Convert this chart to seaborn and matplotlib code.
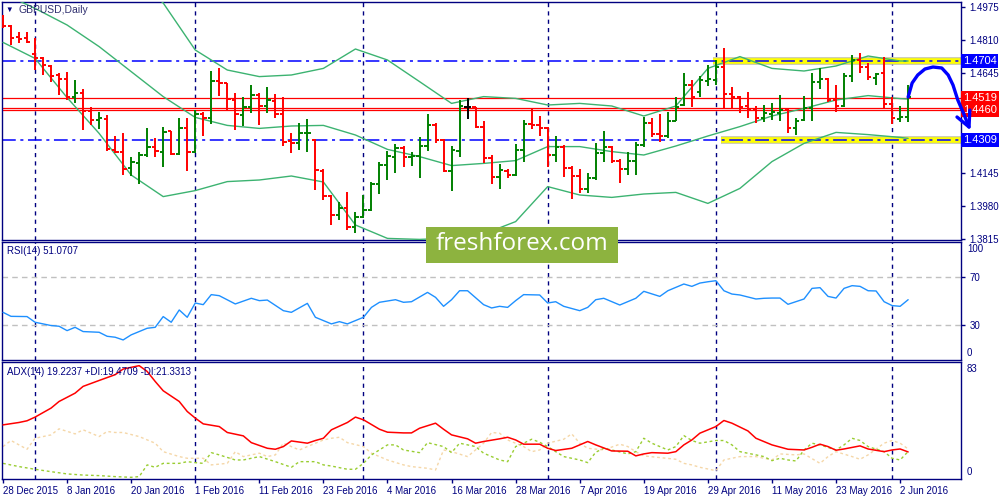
import matplotlib
matplotlib.use("Agg")
import matplotlib.pyplot as plt
import matplotlib.transforms as mtransforms
from matplotlib.patches import Rectangle
import matplotlib.patheffects as pe
import numpy as np
import pandas as pd
import seaborn as sns

# ---------------- data (GBPUSD daily, 28 Dec 2015 - 3 Jun 2016) ----------------
opens = [1.4927, 1.4882, 1.4823, 1.4820, 1.4738, 1.4722, 1.4680, 1.4635, 1.4617, 1.4527,
         1.4543, 1.4455, 1.4410, 1.4415, 1.4260, 1.4252, 1.4168, 1.4193, 1.4233, 1.4277,
         1.4252, 1.4355, 1.4240, 1.4368, 1.4252, 1.4440, 1.4418, 1.4605, 1.4593, 1.4510,
         1.4435, 1.4477, 1.4535, 1.4480, 1.4505, 1.4440, 1.4305, 1.4293, 1.4343, 1.4310,
         1.4157, 1.4030, 1.3935, 1.3968, 1.3877, 1.3927, 1.3960, 1.4090, 1.4185, 1.4227,
         1.4268, 1.4223, 1.4230, 1.4282, 1.4385, 1.4310, 1.4157, 1.4257, 1.4477, 1.4473,
         1.4373, 1.4218, 1.4127, 1.4157, 1.4135, 1.4260, 1.4390, 1.4385, 1.4372, 1.4235,
         1.4277, 1.4168, 1.4130, 1.4063, 1.4118, 1.4243, 1.4277, 1.4205, 1.4163, 1.4205,
         1.4285, 1.4397, 1.4338, 1.4330, 1.4407, 1.4485, 1.4585, 1.4552, 1.4607, 1.4610,
         1.4677, 1.4538, 1.4527, 1.4480, 1.4460, 1.4418, 1.4440, 1.4443, 1.4460, 1.4368,
         1.4410, 1.4468, 1.4602, 1.4613, 1.4510, 1.4480, 1.4630, 1.4710, 1.4677, 1.4618,
         1.4643, 1.4490, 1.4415, 1.4427]
highs = [1.4935, 1.4885, 1.4848, 1.4848, 1.4818, 1.4727, 1.4685, 1.4647, 1.4652, 1.4610,
         1.4563, 1.4477, 1.4448, 1.4435, 1.4330, 1.4347, 1.4227, 1.4252, 1.4372, 1.4318,
         1.4377, 1.4357, 1.4418, 1.4422, 1.4460, 1.4452, 1.4655, 1.4668, 1.4593, 1.4547,
         1.4523, 1.4585, 1.4543, 1.4573, 1.4540, 1.4523, 1.4347, 1.4397, 1.4413, 1.4313,
         1.4163, 1.4035, 1.4002, 1.4048, 1.3952, 1.4035, 1.4102, 1.4198, 1.4257, 1.4290,
         1.4282, 1.4252, 1.4327, 1.4440, 1.4397, 1.4313, 1.4280, 1.4510, 1.4518, 1.4473,
         1.4405, 1.4235, 1.4188, 1.4165, 1.4288, 1.4410, 1.4463, 1.4430, 1.4377, 1.4330,
         1.4285, 1.4182, 1.4163, 1.4143, 1.4293, 1.4355, 1.4282, 1.4215, 1.4252, 1.4302,
         1.4427, 1.4418, 1.4440, 1.4452, 1.4523, 1.4647, 1.4610, 1.4630, 1.4685, 1.4710,
         1.4772, 1.4573, 1.4530, 1.4552, 1.4480, 1.4485, 1.4493, 1.4535, 1.4465, 1.4418,
         1.4530, 1.4643, 1.4668, 1.4618, 1.4585, 1.4647, 1.4735, 1.4747, 1.4693, 1.4647,
         1.4727, 1.4523, 1.4480, 1.4585]
lows = [1.4868, 1.4785, 1.4793, 1.4797, 1.4660, 1.4635, 1.4602, 1.4535, 1.4510, 1.4497,
        1.4360, 1.4385, 1.4363, 1.4257, 1.4243, 1.4135, 1.4130, 1.4088, 1.4227, 1.4227,
        1.4177, 1.4235, 1.4235, 1.4155, 1.4247, 1.4330, 1.4388, 1.4530, 1.4457, 1.4360,
        1.4380, 1.4443, 1.4385, 1.4447, 1.4418, 1.4282, 1.4243, 1.4260, 1.4252, 1.4060,
        1.4010, 1.3885, 1.3910, 1.3860, 1.3843, 1.3918, 1.3957, 1.4038, 1.4110, 1.4143,
        1.4177, 1.4182, 1.4122, 1.4257, 1.4297, 1.4148, 1.4057, 1.4227, 1.4413, 1.4368,
        1.4197, 1.4088, 1.4063, 1.4118, 1.4130, 1.4202, 1.4363, 1.4330, 1.4177, 1.4198,
        1.4127, 1.4013, 1.4047, 1.4047, 1.4110, 1.4202, 1.4197, 1.4097, 1.4135, 1.4135,
        1.4277, 1.4327, 1.4302, 1.4318, 1.4407, 1.4480, 1.4473, 1.4527, 1.4580, 1.4585,
        1.4468, 1.4468, 1.4443, 1.4418, 1.4397, 1.4402, 1.4410, 1.4407, 1.4343, 1.4335,
        1.4407, 1.4407, 1.4563, 1.4502, 1.4452, 1.4477, 1.4602, 1.4643, 1.4610, 1.4585,
        1.4468, 1.4390, 1.4402, 1.4402]
closes = [1.4882, 1.4818, 1.4817, 1.4802, 1.4718, 1.4685, 1.4630, 1.4617, 1.4527, 1.4543,
          1.4455, 1.4410, 1.4418, 1.4265, 1.4248, 1.4165, 1.4198, 1.4233, 1.4277, 1.4257,
          1.4352, 1.4240, 1.4368, 1.4250, 1.4440, 1.4418, 1.4605, 1.4597, 1.4513, 1.4438,
          1.4477, 1.4535, 1.4480, 1.4510, 1.4440, 1.4302, 1.4297, 1.4343, 1.4347, 1.4160,
          1.4030, 1.3935, 1.3968, 1.3877, 1.3927, 1.3960, 1.4090, 1.4185, 1.4230, 1.4268,
          1.4227, 1.4230, 1.4282, 1.4385, 1.4310, 1.4157, 1.4260, 1.4480, 1.4477, 1.4373,
          1.4218, 1.4127, 1.4160, 1.4135, 1.4260, 1.4390, 1.4385, 1.4372, 1.4235, 1.4277,
          1.4168, 1.4130, 1.4063, 1.4118, 1.4243, 1.4277, 1.4205, 1.4163, 1.4205, 1.4285,
          1.4397, 1.4338, 1.4330, 1.4407, 1.4473, 1.4585, 1.4527, 1.4610, 1.4613, 1.4677,
          1.4538, 1.4527, 1.4477, 1.4465, 1.4418, 1.4443, 1.4452, 1.4460, 1.4368, 1.4407,
          1.4468, 1.4602, 1.4613, 1.4510, 1.4480, 1.4630, 1.4710, 1.4677, 1.4623, 1.4640,
          1.4490, 1.4418, 1.4427, 1.4523]

# Bollinger bands (20,2), read every 4th bar
band_idx = [0, 4, 8, 12, 16, 20, 24, 28, 32, 36, 40, 44, 48, 52, 56, 60, 64, 68, 72, 76,
            80, 84, 88, 92, 96, 100, 104, 108, 112, 113]
band_upper = [1.5270, 1.5250, 1.5230, 1.5190, 1.5130, 1.4995, 1.4760, 1.4660, 1.4627, 1.4635,
              1.4668, 1.4765, 1.4710, 1.4602, 1.4493, 1.4527, 1.4518, 1.4485, 1.4493, 1.4480,
              1.4430, 1.4480, 1.4668, 1.4727, 1.4668, 1.4655, 1.4680, 1.4730, 1.4705, 1.4705]
band_mid = [1.5043, 1.4968, 1.4885, 1.4777, 1.4652, 1.4527, 1.4423, 1.4383, 1.4368, 1.4380,
            1.4383, 1.4335, 1.4263, 1.4227, 1.4182, 1.4193, 1.4207, 1.4277, 1.4277, 1.4252,
            1.4235, 1.4280, 1.4330, 1.4377, 1.4430, 1.4468, 1.4510, 1.4532, 1.4517, 1.4515]
band_lower = [1.4798, 1.4718, 1.4522, 1.4343, 1.4135, 1.4027, 1.4057, 1.4102, 1.4110, 1.4130,
              1.4100, 1.3885, 1.3818, 1.3813, 1.3820, 1.3840, 1.3902, 1.4077, 1.4035, 1.4023,
              1.4040, 1.4048, 1.3993, 1.4068, 1.4202, 1.4293, 1.4348, 1.4337, 1.4323, 1.4318]

# RSI(14)
rsi_idx = [0, 1, 2, 3, 4, 6, 7, 8, 9, 10, 12, 13, 14, 15, 16, 18, 19, 20, 21, 22,
           23, 24, 25, 26, 27, 29, 31, 32, 33, 35, 36, 38, 39, 41, 42, 43, 44, 45, 46, 47,
           49, 50, 51, 53, 54, 55, 56, 57, 58, 60, 61, 62, 63, 64, 65, 67, 68, 69, 70, 72,
           73, 74, 75, 77, 79, 80, 82, 83, 85, 86, 87, 88, 89, 90, 91, 92, 94, 95, 96, 97,
           98, 100, 101, 102, 103, 104, 105, 106, 107, 108, 109, 110, 111, 112, 113]
rsi_val = [40.4, 37.0, 36.9, 36.8, 32.0, 29.2, 28.6, 24.9, 27.7, 24.1, 23.5, 20.1, 19.3, 17.0, 21.3,
           26.9, 27.7, 36.8, 32.0, 42.4, 36.2, 48.3, 46.9, 55.4, 54.5, 47.5, 52.3, 50.3, 50.8, 41.8,
           40.4, 48.0, 36.2, 30.6, 32.5, 30.6, 33.4, 36.2, 44.6, 48.9, 51.1, 48.9, 49.4, 57.3, 53.1,
           45.5, 51.1, 58.7, 58.7, 46.9, 44.1, 45.5, 44.6, 50.3, 55.4, 55.1, 48.3, 49.4, 45.5, 41.8,
           44.6, 51.1, 52.3, 46.6, 52.3, 58.2, 53.9, 58.7, 64.4, 62.4, 65.2, 66.3, 67.2, 58.7, 55.9,
           55.1, 51.7, 52.3, 52.5, 52.5, 47.2, 51.7, 60.7, 61.3, 53.9, 52.5, 60.7, 63.0, 62.4, 58.7,
           58.5, 49.4, 46.1, 45.5, 51.1]

# ADX(14)
adx_idx = [0, 2, 3, 4, 6, 7, 9, 10, 12, 14, 15, 17, 18, 19, 20, 22, 23, 24, 25, 27,
           28, 30, 31, 33, 34, 35, 36, 38, 39, 40, 41, 43, 44, 45, 47, 48, 50, 51, 52, 54,
           55, 56, 58, 59, 60, 62, 63, 64, 65, 67, 68, 69, 71, 73, 74, 76, 78, 79, 80, 81,
           83, 84, 85, 86, 87, 89, 90, 91, 93, 94, 96, 98, 100, 101, 102, 103, 104, 105, 107, 108,
           110, 111, 112, 113]
adx_val = [38.4, 40.1, 41.3, 43.9, 50.3, 55.0, 60.9, 65.7, 69.9, 74.0, 78.0, 80.4, 76.3, 69.2, 62.6,
           55.0, 47.9, 43.2, 39.1, 37.2, 33.0, 30.6, 25.8, 21.8, 21.1, 23.0, 27.0, 25.4, 27.3, 28.9,
           34.9, 40.1, 43.9, 42.0, 35.3, 33.2, 32.7, 32.7, 36.0, 39.6, 35.3, 31.3, 28.5, 25.4, 26.6,
           28.5, 29.6, 27.7, 24.7, 24.7, 21.8, 20.2, 21.8, 26.6, 24.2, 19.9, 19.7, 16.4, 17.8, 18.7,
           18.3, 19.4, 24.2, 27.7, 32.5, 37.2, 41.5, 39.6, 34.1, 28.9, 24.2, 21.1, 20.6, 22.5, 24.7,
           23.0, 20.4, 21.3, 23.5, 21.3, 19.4, 20.6, 21.3, 19.2]
pdi_idx = [0, 2, 4, 6, 8, 10, 12, 14, 16, 17, 18, 19, 20, 22, 23, 24, 25, 26, 27, 29,
           30, 32, 34, 36, 37, 39, 40, 41, 43, 44, 45, 46, 48, 49, 50, 52, 53, 55, 56, 57,
           59, 60, 62, 63, 64, 65, 66, 67, 68, 69, 70, 72, 73, 74, 75, 76, 78, 79, 80, 81,
           83, 84, 85, 86, 87, 89, 90, 91, 92, 94, 95, 96, 97, 98, 99, 100, 101, 102, 104, 105,
           106, 107, 108, 110, 111, 112, 113]
pdi_val = [11.1, 8.8, 6.9, 5.2, 3.6, 2.8, 2.4, 1.7, 1.2, 1.7, 10.0, 8.3, 11.1, 11.1, 12.3,
           11.6, 11.1, 18.7, 17.1, 13.5, 13.5, 15.9, 12.3, 8.3, 12.3, 12.3, 10.0, 9.2, 6.9, 6.9,
           11.1, 17.1, 24.2, 24.2, 20.6, 18.7, 25.8, 23.0, 18.7, 25.4, 23.0, 18.3, 13.5, 12.3, 23.0,
           25.4, 28.2, 26.1, 23.0, 19.4, 15.9, 13.5, 11.6, 19.0, 21.8, 20.6, 17.8, 19.4, 28.9, 25.4,
           20.6, 23.0, 30.8, 27.3, 25.4, 27.3, 27.3, 24.2, 19.4, 17.1, 15.9, 13.0, 14.7, 13.5, 12.8,
           20.6, 25.4, 24.2, 20.6, 24.2, 28.9, 27.3, 23.0, 19.4, 14.7, 13.5, 19.5]
ndi_idx = [0, 1, 3, 4, 6, 7, 9, 10, 12, 13, 14, 15, 17, 19, 20, 22, 23, 25, 26, 28,
           29, 30, 32, 33, 34, 35, 37, 38, 40, 41, 42, 43, 45, 46, 48, 50, 51, 53, 54, 55,
           56, 58, 60, 61, 62, 63, 65, 66, 67, 68, 70, 71, 72, 73, 75, 77, 78, 79, 80, 82,
           84, 85, 86, 87, 89, 90, 92, 94, 96, 97, 99, 100, 102, 103, 104, 106, 107, 108, 110, 111,
           112, 113]
ndi_val = [23.0, 27.3, 21.1, 28.9, 31.3, 35.6, 32.0, 34.9, 30.1, 33.7, 33.0, 33.0, 30.1, 25.4, 19.4,
           15.9, 14.7, 14.7, 10.0, 11.1, 19.4, 15.9, 18.3, 15.9, 17.1, 25.4, 20.6, 23.0, 27.7, 28.9,
           29.6, 25.8, 23.0, 18.3, 13.5, 10.0, 8.8, 7.6, 6.4, 20.6, 19.4, 15.9, 25.4, 33.0, 32.5,
           27.7, 23.0, 19.4, 20.6, 25.4, 28.2, 32.0, 25.4, 21.8, 20.6, 24.7, 23.0, 19.4, 16.4, 15.2,
           14.0, 11.1, 10.0, 8.3, 5.9, 13.5, 15.9, 15.9, 13.5, 17.8, 17.1, 17.8, 11.1, 15.9, 19.4,
           15.9, 14.0, 17.1, 25.4, 27.3, 25.4, 21.3]

# axis labels
tick_idx = [0, 8, 16, 24, 32, 40, 48, 56, 64, 72, 80, 88, 96, 104, 112]
tick_labels = ["28 Dec 2015", "8 Jan 2016", "20 Jan 2016", "1 Feb 2016", "11 Feb 2016",
               "23 Feb 2016", "4 Mar 2016", "16 Mar 2016", "28 Mar 2016", "7 Apr 2016",
               "19 Apr 2016", "29 Apr 2016", "11 May 2016", "23 May 2016", "2 Jun 2016"]
month_idx = [4, 24, 45, 68, 89, 111]   # first bar of each month
price_ticks = [1.4975, 1.4810, 1.4645, 1.4145, 1.3980, 1.3815]
rsi_ticks = [30, 70]
rsi_edge_labels = ["100", "0"]
adx_edge_labels = ["83", "0"]

# drawn levels
blue_levels = [1.4704, 1.4309]
red_levels = [1.4519, 1.4471, 1.4460]
yellow_start = [88.6, 89.6]
box_levels = [1.4704, 1.4519, 1.4460, 1.4309]
box_colors = ["#0000FF", "#FF0000", "#FF0000", "#0000FF"]

# hand-drawn forecast arrow (bar, price)
arrow_x = [113.0, 113.5, 114.2, 115.1, 116.1, 117.2, 118.0, 118.6, 119.2, 119.9, 120.6]
arrow_y = [1.4525, 1.4595, 1.4635, 1.4665, 1.4675, 1.4670, 1.4635, 1.4585, 1.4510, 1.4445, 1.4375]
head_x = [119.1, 120.6, 120.7]
head_y = [1.4425, 1.4375, 1.4460]

# ---------------- style ----------------
sns.set_theme(style="white")
plt.rcParams['font.family'] = ['Liberation Sans', 'DejaVu Sans']
navy = "#000080"
up_col, down_col = "#008000", "#FF0000"
band_col = "#3CB371"

fig = plt.figure(figsize=(10, 5), dpi=100)
fig.patch.set_facecolor("white")
ax1 = fig.add_axes([0.002, 0.52, 0.959, 0.476])
ax2 = fig.add_axes([0.002, 0.28, 0.959, 0.236])
ax3 = fig.add_axes([0.002, 0.042, 0.959, 0.234])

for ax in (ax1, ax2, ax3):
    ax.set_facecolor("white")
    ax.set_xlim(-0.125, 119.6)
    for sp in ax.spines.values():
        sp.set_color(navy)
        sp.set_linewidth(1.0)
    for m in month_idx:
        ax.axvline(m, color=navy, lw=1, ls=(0, (3, 3)), zorder=1)
    ax.yaxis.tick_right()
    ax.tick_params(axis="y", colors=navy, labelcolor=navy, labelsize=7, length=3, width=1,
                   direction="out", pad=3, right=True, left=False)
    ax.grid(False)

# ---------------- price panel ----------------
bars = pd.DataFrame({"open": opens, "high": highs, "low": lows, "close": closes})
bars["bar"] = np.arange(len(bars))
col = np.where(bars.close > bars.open, up_col, np.where(bars.close < bars.open, down_col, "black"))
ax1.vlines(bars.bar, bars.low, bars.high, colors=col, lw=1.4, zorder=4)
ax1.hlines(bars.open, bars.bar - 0.42, bars.bar, colors=col, lw=1.4, zorder=4)
ax1.hlines(bars.close, bars.bar, bars.bar + 0.42, colors=col, lw=1.4, zorder=4)

bb = pd.DataFrame({"bar": band_idx, "upper": band_upper, "mid": band_mid, "lower": band_lower})
for name in ["upper", "mid", "lower"]:
    sns.lineplot(data=bb, x="bar", y=name, ax=ax1, color=band_col, lw=1.0, zorder=3)

for lv in red_levels:
    ax1.axhline(lv, color="#FF0000", lw=0.9, zorder=2)
for lv, xs in zip(blue_levels, yellow_start):
    ax1.hlines(lv, xs, 119.6, color="#FFFF00", lw=4.0, zorder=2,
               path_effects=[pe.withStroke(linewidth=5.5, foreground="#c4c4a8")])
    ax1.axhline(lv, color="#0000FF", lw=1.1, ls=(0, (9, 3, 2, 3)), zorder=2.5)

ax1.set_ylim(1.3810, 1.5000)
ax1.set_yticks(price_ticks)
ax1.set_yticklabels([f"{v:.4f}" for v in price_ticks])
ax1.tick_params(axis="x", bottom=False, labelbottom=False)
ax1.set_xlabel("")
ax1.set_ylabel("")

trans = mtransforms.blended_transform_factory(ax1.transAxes, ax1.transData)
for lv, fc in zip(box_levels, box_colors):
    ax1.text(1.0018, lv, f"{lv:.4f}", transform=trans, ha="left", va="center", fontsize=8,
             color="white", bbox=dict(boxstyle="square,pad=0.18", fc=fc, ec="none"),
             zorder=10, clip_on=False)

ax1.plot(arrow_x, arrow_y, color="#0000FF", lw=2.4, clip_on=False, zorder=12,
         solid_capstyle="round", solid_joinstyle="round")
ax1.plot(head_x, head_y, color="#0000FF", lw=2.4, clip_on=False, zorder=12,
         solid_capstyle="round", solid_joinstyle="round")

ax1.text(0.004, 0.966, "\u25BC", transform=ax1.transAxes, fontsize=5.5, color=navy,
         va="center", ha="left")
ax1.text(0.0167, 0.966, "GBPUSD,Daily", transform=ax1.transAxes, fontsize=7.5,
         color="#303070", va="center", ha="left")

# ---------------- RSI panel ----------------
rsi = pd.DataFrame({"bar": rsi_idx, "rsi": rsi_val})
sns.lineplot(data=rsi, x="bar", y="rsi", ax=ax2, color="#1E90FF", lw=1.0, zorder=3)
for lv in rsi_ticks:
    ax2.axhline(lv, color="#C0C0C0", lw=1, ls=(0, (4, 3)), zorder=1)
ax2.set_ylim(0, 100)
ax2.set_yticks(rsi_ticks)
ax2.set_yticklabels([str(v) for v in rsi_ticks])
ax2.tick_params(axis="x", bottom=False, labelbottom=False)
ax2.set_xlabel("")
ax2.set_ylabel("")
ax2.text(1.0063, 0.94, rsi_edge_labels[0], transform=ax2.transAxes, fontsize=7, color=navy,
         va="center", ha="left")
ax2.text(1.0063, 0.06, rsi_edge_labels[1], transform=ax2.transAxes, fontsize=7, color=navy,
         va="center", ha="left")
ax2.text(0.005, 0.924, "RSI(14) 51.0707", transform=ax2.transAxes, fontsize=7,
         color=navy, va="center", ha="left")

# ---------------- ADX panel ----------------
adx = pd.DataFrame({"bar": adx_idx, "adx": adx_val})
pdi = pd.DataFrame({"bar": pdi_idx, "pdi": pdi_val})
ndi = pd.DataFrame({"bar": ndi_idx, "ndi": ndi_val})
sns.lineplot(data=ndi, x="bar", y="ndi", ax=ax3, color="#F5D7A8", lw=1.0, ls=(0, (2, 2)), zorder=2)
sns.lineplot(data=pdi, x="bar", y="pdi", ax=ax3, color="#9ACD32", lw=1.0, ls=(0, (2, 2)), zorder=2)
sns.lineplot(data=adx, x="bar", y="adx", ax=ax3, color="#FF0000", lw=1.1, zorder=3)
ax3.set_ylim(0, 83)
ax3.set_yticks([])
ax3.text(1.0063, 0.94, adx_edge_labels[0], transform=ax3.transAxes, fontsize=7, color=navy,
         va="center", ha="left")
ax3.text(1.0063, 0.06, adx_edge_labels[1], transform=ax3.transAxes, fontsize=7, color=navy,
         va="center", ha="left")
ax3.set_xticks(tick_idx)
ax3.set_xticklabels(tick_labels, ha="left", fontsize=7, color=navy)
ax3.tick_params(axis="x", bottom=True, length=3, width=1, colors=navy, labelcolor=navy,
                direction="out", pad=2)
ax3.set_xlim(-0.125, 119.6)
ax3.set_xlabel("")
ax3.set_ylabel("")
ax3.text(0.005, 0.915, "ADX(14) 19.2237 +DI:19.4709 -DI:21.3313", transform=ax3.transAxes,
         fontsize=7, color=navy, va="center", ha="left")

# ---------------- watermark ----------------
fig.patches.append(Rectangle((0.426, 0.474), 0.192, 0.072, transform=fig.transFigure,
                             facecolor="#8DB33F", edgecolor="none", zorder=20))
fig.text(0.522, 0.511, "freshforex.com", fontsize=17.5, color="white", ha="center",
         va="center", family=["Open Sans", "DejaVu Sans"], zorder=21)

fig.savefig("out.png", dpi=100, facecolor="white")
